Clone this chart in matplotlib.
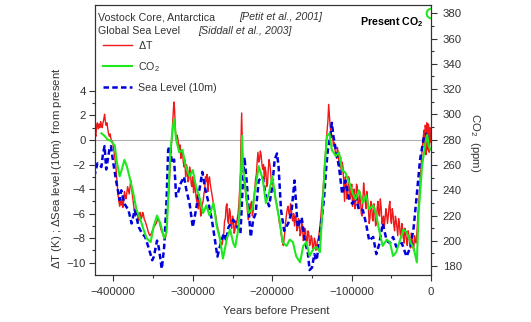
import numpy as np
import matplotlib
matplotlib.use('Agg')
import matplotlib.pyplot as plt
import matplotlib.ticker as ticker

plt.rcParams['font.family'] = ['Liberation Sans', 'DejaVu Sans']
plt.rcParams['mathtext.fontset'] = 'custom'
plt.rcParams['mathtext.rm'] = 'Liberation Sans'
plt.rcParams['mathtext.it'] = 'Liberation Sans:italic'
plt.rcParams['mathtext.bf'] = 'Liberation Sans:bold'

# Vostok temperature anomaly: (kyr before present, K)
dt_points = [
    (-424, 0.0), (-423, 0.6), (-422, 0.3), (-421, 1.2), (-420, 1.4), (-419, 0.9), (-418, 1.3),
    (-417, 1.0), (-416, 1.5), (-415, 1.2), (-414, 1.0), (-413, 1.4), (-412, 1.7), (-411, 2.1),
    (-410, 1.5), (-409, 1.2), (-408, 1.4), (-407, 0.9), (-406, 0.5), (-405, 0.3), (-404, 0.5),
    (-403, 0.1), (-402, -0.2), (-401, -0.1), (-400, -0.6), (-399, -1.0), (-398, -1.5), (-397, -2.0),
    (-396, -2.8), (-395, -3.6), (-394, -4.5), (-393, -5.0), (-392, -5.4), (-391, -5.0), (-390, -5.3),
    (-389, -4.8), (-388, -5.5), (-387, -5.0), (-386, -4.2), (-385, -4.6), (-384, -4.8), (-383, -4.3),
    (-382, -3.8), (-381, -4.1), (-380, -4.4), (-379, -3.8), (-378, -3.3), (-377, -3.9), (-376, -4.5),
    (-375, -5.0), (-374, -5.6), (-373, -5.9), (-372, -6.2), (-371, -5.8), (-370, -5.8), (-369, -6.3),
    (-368, -6.6), (-367, -6.0), (-366, -5.9), (-365, -6.4), (-364, -6.3), (-363, -5.9), (-362, -6.1),
    (-361, -6.5), (-360, -6.6), (-358, -7.0), (-356, -7.5), (-354, -7.8), (-352, -7.6), (-350, -7.2),
    (-348, -7.0), (-346, -6.8), (-344, -6.4), (-342, -6.7), (-340, -7.3), (-338, -7.6), (-336, -8.0),
    (-334, -7.9), (-332, -6.0), (-330, -4.0), (-328, -1.5), (-326, 0.5), (-325, 1.8), (-324, 2.9),
    (-323.5, 3.1), (-323, 2.6), (-322, 1.0), (-321, 0.0), (-320, 0.4), (-319, 0.2), (-318, -0.3),
    (-317, -0.8), (-316, -0.4), (-315, -1.5), (-314, -0.8), (-313, -1.0), (-312, -1.8), (-311, -2.2),
    (-310, -1.6), (-309, -3.0), (-308, -2.0), (-307, -2.3), (-306, -3.4), (-305, -3.2), (-304, -2.2),
    (-303, -2.6), (-302, -3.6), (-301, -3.8), (-300, -3.0), (-299, -4.3), (-298, -3.4), (-297, -3.8),
    (-296, -4.6), (-295, -5.0), (-294, -4.4), (-293, -5.6), (-292, -4.8), (-291, -5.2), (-290, -6.2),
    (-289, -6.0), (-288, -5.2), (-287, -5.0), (-286, -4.4), (-285, -4.0), (-284, -3.0), (-283, -3.4),
    (-282, -2.8), (-281, -4.2), (-280, -3.2), (-279, -3.0), (-278, -3.6), (-277, -4.0), (-276, -4.4),
    (-275, -4.8), (-274, -5.2), (-273, -5.5), (-272, -5.9), (-271, -6.2), (-270, -6.8), (-269, -7.0),
    (-268, -7.4), (-267, -7.6), (-266, -8.0), (-265, -8.2), (-264, -8.6), (-263, -8.5), (-262, -8.0),
    (-261, -7.6), (-260, -6.6), (-259, -6.4), (-258, -5.4), (-257, -5.2), (-256, -6.6), (-255, -6.8),
    (-254, -5.6), (-253, -5.8), (-252, -7.0), (-251, -7.2), (-250, -6.2), (-249, -6.5), (-248, -7.6),
    (-247, -7.4), (-246, -6.6), (-245, -7.0), (-244, -6.4), (-243, -6.0), (-242, -5.2), (-241, -4.0),
    (-240, -2.6), (-239.5, -0.5), (-238.5, 2.2), (-237.5, -1.0), (-237, -2.2), (-236, -3.0),
    (-235, -3.6), (-234, -4.0), (-233, -4.8), (-232, -5.2), (-231, -6.0), (-230, -6.5), (-229, -5.6),
    (-228, -6.0), (-227, -5.2), (-226, -5.0), (-225, -6.2), (-224, -5.8), (-223, -4.6), (-222, -4.0),
    (-221, -3.2), (-220, -2.8), (-219, -1.8), (-218, -1.0), (-217, -1.8), (-216, -1.6), (-215, -0.9),
    (-214, -1.2), (-213, -2.0), (-212, -2.4), (-211, -2.0), (-210, -3.2), (-209, -2.2), (-208, -2.6),
    (-207, -3.8), (-206, -3.6), (-205, -2.4), (-204, -1.6), (-203, -2.0), (-202, -2.6), (-201, -3.6),
    (-200, -3.2), (-199, -3.8), (-198, -4.2), (-197, -4.0), (-196, -4.8), (-195, -5.0), (-194, -5.4),
    (-193, -5.8), (-192, -6.2), (-191, -6.8), (-190, -7.0), (-189, -7.6), (-188, -8.0), (-187, -8.4),
    (-186, -8.6), (-185, -8.0), (-184, -7.4), (-183, -6.6), (-182, -6.0), (-181, -5.6), (-180, -5.4),
    (-179, -6.0), (-178, -6.2), (-177, -5.2), (-176, -5.6), (-175, -6.4), (-174, -6.6), (-173, -6.0),
    (-172, -7.0), (-171, -6.2), (-170, -6.4), (-169, -7.4), (-168, -7.2), (-167, -6.4), (-166, -6.8),
    (-165, -7.8), (-164, -7.6), (-163, -6.8), (-162, -7.0), (-161, -8.2), (-160, -8.0), (-159, -7.2),
    (-158, -7.4), (-157, -8.4), (-156, -8.2), (-155, -7.4), (-154, -7.6), (-153, -8.6), (-152, -8.4),
    (-151, -7.8), (-150, -8.0), (-149, -9.0), (-148, -8.8), (-147, -8.0), (-146, -8.2), (-145, -9.0),
    (-144, -8.6), (-143, -8.2), (-142, -8.0), (-141, -7.6), (-140, -7.0), (-139, -6.4), (-138, -5.5),
    (-137, -4.8), (-136, -4.0), (-135, -3.0), (-134, -2.0), (-133, -1.0), (-132, 0.0), (-131, 0.8),
    (-130, 1.5), (-129.5, 2.2), (-129, 2.9), (-128.5, 2.4), (-128, 2.0), (-127, 1.0), (-126, 0.6),
    (-125, 0.2), (-124, 0.4), (-123, -0.5), (-122, -0.2), (-121, -0.8), (-120, -1.2), (-119, -1.5),
    (-118, -0.6), (-117, -1.0), (-116, -2.0), (-115, -2.2), (-114, -1.4), (-113, -2.8), (-112, -1.8),
    (-111, -2.2), (-110, -3.6), (-109, -5.0), (-108, -3.0), (-107, -3.5), (-106, -4.8), (-105, -4.6),
    (-104, -3.0), (-103, -3.2), (-102, -4.8), (-101, -4.4), (-100, -3.6), (-99, -5.4), (-98, -4.6),
    (-97, -4.0), (-96, -5.6), (-95, -5.2), (-94, -3.6), (-93, -3.8), (-92, -5.4), (-91, -5.6),
    (-90, -4.2), (-89, -4.8), (-88, -6.0), (-87, -6.2), (-86, -4.8), (-85, -3.5), (-84, -4.2),
    (-83, -5.0), (-82, -5.6), (-81, -4.2), (-80, -4.8), (-79, -5.6), (-78, -6.8), (-77, -6.4),
    (-76, -5.0), (-75, -5.2), (-74, -6.4), (-73, -6.6), (-72, -5.2), (-71, -5.6), (-70, -7.0),
    (-69, -6.8), (-68, -5.6), (-67, -5.0), (-66, -6.0), (-65, -6.2), (-64, -4.8), (-63, -5.4),
    (-62, -6.8), (-61, -6.6), (-60, -6.2), (-59, -7.2), (-58, -6.4), (-57, -5.6), (-56, -6.0),
    (-55, -6.8), (-54, -6.2), (-53, -5.4), (-52, -5.0), (-51, -6.4), (-50, -6.8), (-49, -5.6),
    (-48, -6.0), (-47, -7.0), (-46, -7.4), (-45, -6.2), (-44, -6.6), (-43, -7.2), (-42, -7.8),
    (-41, -6.4), (-40, -6.8), (-39, -7.6), (-38, -8.0), (-37, -6.8), (-36, -7.2), (-35, -8.0),
    (-34, -8.4), (-33, -7.2), (-32, -7.6), (-31, -8.2), (-30, -8.6), (-29, -7.4), (-28, -7.8),
    (-27, -8.4), (-26, -8.8), (-25, -7.6), (-24, -8.0), (-23, -8.6), (-22, -9.0), (-21, -7.8),
    (-20, -8.2), (-19, -8.4), (-18, -7.6), (-17, -6.5), (-16, -5.4), (-15, -4.5), (-14, -3.4),
    (-13, -2.5), (-12, -1.4), (-11, -0.5), (-10, 0.2), (-9, 0.8), (-8.5, -0.6), (-8, -0.3),
    (-7.5, 1.2), (-7, 1.0), (-6.5, -1.2), (-6, -0.5), (-5.5, 1.4), (-5, 1.2), (-4.5, -0.8),
    (-4, 0.3), (-3.5, 1.3), (-3, 1.1), (-2.5, -1.0), (-2, -0.4), (-1.5, 1.0), (-1, 0.8),
    (-0.5, -0.2), (0, 0.2),
]

# CO2: (kyr before present, ppm)
co2_points = [
    (-415, 285), (-411, 283), (-407, 280), (-403, 279), (-398, 275), (-396, 264), (-392, 251),
    (-390, 255), (-386, 264), (-383, 259), (-379, 249), (-375, 238), (-371, 225), (-366, 217),
    (-362, 209), (-358, 202), (-353, 199), (-349, 212), (-345, 220), (-341, 214), (-336, 202),
    (-333, 207), (-331, 233), (-328, 272), (-325, 290), (-323.5, 296), (-321, 280), (-317, 270),
    (-313, 272), (-309, 259), (-304, 251), (-300, 256), (-296, 243), (-291, 233), (-287, 222),
    (-283, 228), (-279, 220), (-274, 230), (-270, 212), (-266, 202), (-262, 186), (-257, 202),
    (-253, 209), (-249, 198), (-246.6, 195), (-242, 212), (-239, 259), (-238, 283), (-237, 259),
    (-234, 243), (-230, 222), (-225, 225), (-221, 243), (-217, 259), (-212, 249), (-208, 230),
    (-204, 238), (-200, 251), (-195, 230), (-191, 217), (-187, 199), (-182, 196), (-178, 201),
    (-174, 199), (-170, 188), (-165, 183), (-161, 196), (-157, 199), (-153, 188), (-148, 194),
    (-144, 195), (-140, 191), (-138, 212), (-134, 259), (-131, 283), (-128, 285), (-125, 272),
    (-120, 267), (-116, 270), (-112, 256), (-108, 254), (-103, 246), (-99, 238), (-95, 233),
    (-91, 240), (-86, 230), (-82, 236), (-78, 225), (-73, 228), (-69, 220), (-65, 207),
    (-61, 196), (-56, 201), (-52, 199), (-48, 188), (-44, 191), (-39, 201), (-35, 209),
    (-31, 207), (-26, 199), (-22, 194), (-18, 183), (-16, 220), (-11.5, 259), (-7.3, 277),
    (-5, 284), (-3, 275), (-1, 272),
]

# Global sea level: (kyr before present, units of 10 m)
sl_points = [
    (-424, -3.0), (-420, -1.9), (-415, -2.2), (-413, -1.1), (-411, -0.5), (-409, -2.4), (-407, -1.6),
    (-405, -0.8), (-403, -0.5), (-400, -1.9), (-396, -3.5), (-392, -4.9), (-390, -4.1), (-386, -5.2),
    (-381, -5.7), (-377, -6.8), (-373, -5.7), (-368, -7.1), (-364, -7.6), (-360, -7.9), (-356, -8.7),
    (-351, -9.8), (-349, -9.5), (-345, -8.2), (-343, -8.7), (-339, -10.5), (-336, -8.7), (-333, -4.9),
    (-331, -0.8), (-329, -0.5), (-326, -1.9), (-323.5, -1.6), (-321, -4.6), (-319, -4.4), (-315, -3.5),
    (-311, -3.0), (-308, -4.1), (-304, -5.2), (-300, -7.1), (-296, -5.7), (-291, -3.8), (-288, -2.6),
    (-285, -3.8), (-281, -4.9), (-276, -6.5), (-272, -8.2), (-269, -9.5), (-266, -8.7), (-261, -7.6),
    (-258, -8.2), (-255, -7.1), (-249, -6.5), (-244, -7.1), (-240, -7.6), (-237, -3.5), (-235, -1.4),
    (-232, -3.5), (-229, -6.3), (-227, -7.9), (-224, -6.5), (-221, -6.0), (-217, -3.3), (-212, -3.0),
    (-208, -4.6), (-204, -5.4), (-200, -3.8), (-197, -1.6), (-194, -1.1), (-192, -2.2), (-189, -5.7),
    (-185, -7.4), (-180, -6.8), (-176, -6.0), (-172, -3.3), (-168, -7.1), (-163, -6.3), (-159, -8.2),
    (-155, -9.3), (-153, -10.6), (-150, -10.4), (-147, -9.3), (-144, -9.8), (-140, -7.6), (-135, -4.9),
    (-132, -2.2), (-130, -0.8), (-127, 0.3), (-125, 1.4), (-123, 0.3), (-120, -0.8), (-116, -2.2),
    (-112, -4.4), (-108, -3.3), (-103, -4.9), (-99, -5.2), (-95, -4.6), (-91, -5.7), (-86, -5.7),
    (-82, -6.8), (-78, -8.2), (-73, -7.9), (-69, -9.3), (-65, -8.4), (-61, -6.8), (-56, -8.2),
    (-52, -8.4), (-48, -7.9), (-44, -8.7), (-37, -8.4), (-31, -9.5), (-26, -8.7), (-22, -7.1),
    (-18, -4.4), (-14, -1.6), (-9, 0.3), (-6, 0.5), (-3, 0.0),
]

present_co2 = 380

dt_kyr, dt_val = np.array(dt_points).T
co2_kyr, co2_ppm = np.array(co2_points).T
sl_kyr, sl_val = np.array(sl_points).T

fig = plt.figure(figsize=(5.31, 3.22), dpi=100)
ax = fig.add_axes([0.179, 0.146, 0.633, 0.8385])
ax2 = ax.twinx()

dark = '#333333'
ax.axhline(0, color='#b0b0b0', lw=0.8, zorder=1)
l1, = ax.plot(dt_kyr * 1000, dt_val, color='#f01818', lw=1.0, label=r'$\Delta$T')
l3, = ax.plot(sl_kyr * 1000, sl_val, color='#0000dd', lw=1.8, ls=(0, (2.2, 1.3)),
              label='Sea Level (10m)')
l2, = ax2.plot(co2_kyr * 1000, co2_ppm, color='#1ee81e', lw=1.5, label='CO$_2$')
ax2.plot([0], [present_co2], 'o', mfc='none', mec='#1ee81e', mew=1.5, ms=7)

ax.set_xlim(-423000, 0)
ax.set_ylim(-11, 11)
ax2.set_ylim(173, 386.5)

ax.set_yticks(np.arange(-10, 5, 2))
ax.set_yticks(np.arange(-9, 4, 2), minor=True)
ax.xaxis.set_major_locator(ticker.MultipleLocator(100000))
ax.xaxis.set_minor_locator(ticker.MultipleLocator(50000))
ax2.set_yticks(np.arange(180, 381, 20))
ax2.set_yticks(np.arange(190, 381, 20), minor=True)

for a in (ax, ax2):
    a.tick_params(which='major', direction='out', length=4.3, width=0.8, color=dark,
                  labelsize=8.2, labelcolor=dark, pad=2.5)
    a.tick_params(which='minor', direction='out', length=2.2, width=0.8, color=dark)
    for s in a.spines.values():
        s.set_color(dark)
        s.set_linewidth(0.8)
ax.tick_params(axis='x', pad=4.3)
ax2.tick_params(axis='y', pad=4)

ax.set_xlabel('Years before Present', fontsize=8.2, color=dark)
ax.xaxis.set_label_coords(0.539, -0.115)
ax.set_ylabel(r'$\Delta$T (K) ; $\Delta$Sea level (10m)  from present', fontsize=8.2, color=dark)
ax.yaxis.set_label_coords(-0.092, 0.396)
ax2.set_ylabel('CO$_2$  (ppm)', fontsize=8.2, color=dark, rotation=270)
ax2.yaxis.set_label_coords(1.152, 0.489)

ax.text(0.01, 0.944, 'Vostock Core, Antarctica', transform=ax.transAxes, fontsize=7.7, color=dark)
ax.text(0.428, 0.944, '[Petit et al., 2001]', transform=ax.transAxes, fontsize=7.7,
        style='italic', color=dark)
ax.text(0.01, 0.894, 'Global Sea Level', transform=ax.transAxes, fontsize=7.7, color=dark)
ax.text(0.307, 0.894, '[Siddall et al., 2003]', transform=ax.transAxes, fontsize=7.7,
        style='italic', color=dark)
ax.text(0.977, 0.927, r'Present CO$_\mathbf{2}$', transform=ax.transAxes, fontsize=7.7,
        fontweight='bold', ha='right', color='black')

ax.legend(handles=[l1, l2, l3], loc='upper left', bbox_to_anchor=(0.024, 0.875), frameon=False,
          fontsize=7.7, handlelength=2.7, handletextpad=0.6, labelspacing=0.85,
          borderpad=0, borderaxespad=0, labelcolor=dark)

fig.savefig('out.png', dpi=100)
